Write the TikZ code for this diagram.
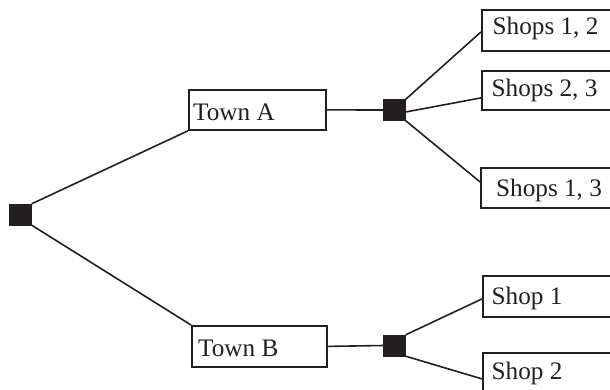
\documentclass[tikz,border=0pt]{standalone}
\usepackage{fontspec}
\setmainfont{Liberation Serif}
\usetikzlibrary{calc}
\definecolor{ink}{HTML}{231F20}
\begin{document}
\begin{tikzpicture}[x=1pt,y=-1pt,
  box/.style={draw=ink,line width=1.8pt,rectangle,inner sep=0pt,anchor=north west},
  sq/.style={fill=ink,draw=ink,rectangle,inner sep=0pt,minimum width=22pt,minimum height=21pt},
  lbl/.style={inner sep=0pt,anchor=base west,text=ink,font=\fontsize{25.2}{29}\selectfont},
  conn/.style={draw=ink,line width=1.6pt}]
\clip (0,0) rectangle (610,390);
% decision squares
\node[sq] (s0) at (20.5,214.5) {};
\node[sq] (sA) at (394.5,110) {};
\node[sq] (sB) at (394.5,345.5) {};
% boxes
\node[box,minimum width=137pt,minimum height=40pt] (tA) at (188,89) {};
\node[box,minimum width=135pt,minimum height=41pt] (tB) at (191,325) {};
\node[box,minimum width=135pt,minimum height=41pt] (s12) at (481,9) {};
\node[box,minimum width=135pt,minimum height=39pt] (s23) at (481,70) {};
\node[box,minimum width=135pt,minimum height=40pt] (s13) at (480,167) {};
\node[box,minimum width=135pt,minimum height=41pt] (p1) at (482,275) {};
\node[box,minimum width=135pt,minimum height=42pt] (p2) at (482,352) {};
% labels
\node[lbl] (ltA) at (193,121) {Town A};
\node[lbl] (ltB) at (198,356) {Town B};
\node[lbl] (l12) at (492.5,35) {Shops 1, 2};
\node[lbl] (l23) at (491.5,96.5) {Shops 2, 3};
\node[lbl] (l13) at (496,196.5) {Shops 1, 3};
\node[lbl] (lp1) at (491.5,304) {Shop 1};
\node[lbl] (lp2) at (491.5,379) {Shop 2};
% connector end points
\coordinate (e12) at ([yshift=-1.5pt]s12.west);
\coordinate (e23) at ([yshift=-7.5pt]s23.west);
\coordinate (e13) at ([yshift=6pt]s13.west);
\coordinate (ep1) at ([yshift=-2.5pt]p1.west);
\coordinate (ep2) at ([yshift=-5pt]p2.west);
\coordinate (aM) at ([yshift=-2pt]sA.east);
% connectors
\draw[conn] (s0.north east) -- (tA.south west);
\draw[conn] (s0.south east) -- (tB.north west);
\draw[conn] (tA.east) -- (sA.west);
\draw[conn] (tB.east) -- (sB.west);
\draw[conn] (sA.north east) -- (e12);
\draw[conn] (aM) -- (e23);
\draw[conn] (sA.south east) -- (e13);
\draw[conn] (sB.north east) -- (ep1);
\draw[conn] (sB.south east) -- (ep2);
\end{tikzpicture}
\end{document}
